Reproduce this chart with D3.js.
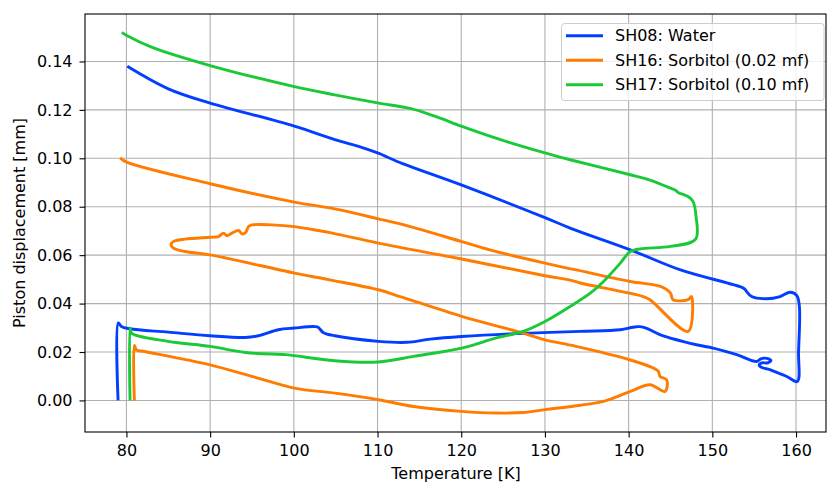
<!DOCTYPE html>
<html>
<head>
<meta charset="utf-8">
<script src="https://cdn.jsdelivr.net/npm/d3@7"></script>
<style>
  html, body { margin: 0; padding: 0; background: #ffffff; }
  svg { display: block; font-family: "DejaVu Sans", sans-serif; }
</style>
</head>
<body>
<svg id="chart" width="827" height="483"></svg>
<script>
// Piston displacement vs temperature for three samples (T in K, displacement in mm)
const seriesNames = ["SH08: Water", "SH16: Sorbitol (0.02 mf)", "SH17: Sorbitol (0.10 mf)"];
const seriesColors = ["#023eff", "#ff7c00", "#1ac938"];

const waterT = [79.0, 79.03, 79.4, 80.4, 85, 90, 94.2, 95.76, 98.15, 100.06, 102.5, 102.9, 103.5, 104.9,
  110.1, 113.5, 116.3, 120.05, 125.8, 134.2, 139, 140.5, 141.2, 142, 143.8, 148.1, 150.1, 153, 155.3,
  155.8, 156.5, 157.0, 156.6, 155.9, 155.6, 156.0, 156.8, 157.3, 158.9, 160.15, 160.3, 160.4, 160.1,
  159.3, 158.1, 156.5, 154.7, 153.7, 152.5, 146.2, 140.2, 133, 130, 120, 113, 110, 108, 104.9, 100.06, 90, 85, 80.1];
const waterD = [0.0, 0.032, 0.0305, 0.0296, 0.0282, 0.0267, 0.026, 0.0267, 0.0292, 0.0299, 0.0305, 0.0302, 0.0281, 0.0267,
  0.0244, 0.024, 0.0253, 0.0264, 0.0275, 0.0285, 0.0292, 0.0302, 0.0305, 0.030, 0.0271, 0.023, 0.0216, 0.0188, 0.0161,
  0.0172, 0.0174, 0.0165, 0.0155, 0.0155, 0.0145, 0.0135, 0.0128, 0.0121, 0.0099, 0.0078, 0.02, 0.0388, 0.0433,
  0.0447, 0.0429, 0.042, 0.0429, 0.0464, 0.0478, 0.0539, 0.0622, 0.0712, 0.0755, 0.089, 0.0978, 0.1022, 0.1046, 0.1077, 0.1133, 0.1228, 0.1287, 0.138];

const sorb02T = [80.95, 80.95, 81.2, 82.2, 90, 95, 100.06, 104.9, 110.1, 114.3, 120.05, 124.2, 127.4, 130, 134.2,
  137, 140.2, 142.55, 144.35, 144.55, 143.75, 143.55, 142.95, 140.2, 133.6, 130, 127.4, 120.05, 112.7, 110.1,
  104.3, 100.06, 90, 87, 85.6, 85.33, 85.6, 87, 90, 91, 91.6, 92, 92.6, 93.4, 93.8, 94.2, 94.6, 95, 97.4,
  100.06, 102.9, 104.6, 110.1, 120.05, 130, 133, 134.2, 141.75, 142.55, 147.1, 147.5, 147.1, 145.3, 145, 143.8,
  140.2, 133.6, 130, 123.4, 120.05, 113.9, 110.1, 104.9, 100.06, 90, 80.04, 79.25];
const sorb02D = [0.0, 0.0227, 0.0209, 0.0202, 0.0147, 0.0099, 0.0051, 0.003, 0.0003, -0.0025, -0.0045, -0.0052, -0.005, -0.0038, -0.002,
  -0.0004, 0.0037, 0.0065, 0.0037, 0.0085, 0.0099, 0.012, 0.0134, 0.0167, 0.0224, 0.025, 0.0278, 0.0347, 0.0429, 0.0457,
  0.0498, 0.0526, 0.0601, 0.0615, 0.0629, 0.0643, 0.0656, 0.0666, 0.0674, 0.0677, 0.0691, 0.068, 0.0691, 0.0702, 0.0688, 0.0692, 0.0718, 0.0725, 0.0725,
  0.0718, 0.0702, 0.0691, 0.065, 0.0584, 0.0515, 0.0497, 0.0485, 0.0429, 0.0416, 0.0285, 0.0429, 0.0416, 0.0416, 0.0443, 0.0471,
  0.0491, 0.054, 0.0567, 0.0622, 0.0656, 0.0718, 0.075, 0.0791, 0.0819, 0.0895, 0.0984, 0.1002];

const sorb10T = [80.43, 80.43, 80.6, 85, 90, 94.2, 98.95, 100.06, 104.9, 110.1, 114.3, 120.05, 124.2, 127.4, 130,
  133, 135.5, 137, 139, 140.2, 141.4, 145, 148.0, 148.05, 147.7, 147.1, 145.9, 145.6, 144.55, 142.2, 140.2,
  133, 130, 124.7, 120, 117, 114, 110, 104.9, 100.06, 90, 83.0, 80.04, 79.44];
const sorb10D = [0.0, 0.0299, 0.0278, 0.0244, 0.0223, 0.0198, 0.0189, 0.0185, 0.0164, 0.0159, 0.0182, 0.0216, 0.0258, 0.0285, 0.0326,
  0.0388, 0.0445, 0.0491, 0.0567, 0.0615, 0.0626, 0.0636, 0.0666, 0.076, 0.0821, 0.0842, 0.0859, 0.0868, 0.0883, 0.0914, 0.0932,
  0.0994, 0.1022, 0.1077, 0.1133, 0.1172, 0.1205, 0.1229, 0.1262, 0.1296, 0.1383, 0.1459, 0.1507, 0.152];

const xTicks = [80, 90, 100, 110, 120, 130, 140, 150, 160];
const yTicks = [0.00, 0.02, 0.04, 0.06, 0.08, 0.10, 0.12, 0.14];

const series = [
  { name: seriesNames[0], color: seriesColors[0], T: waterT, D: waterD },
  { name: seriesNames[1], color: seriesColors[1], T: sorb02T, D: sorb02D },
  { name: seriesNames[2], color: seriesColors[2], T: sorb10T, D: sorb10D }
];

const margin = { left: 85, right: 1, top: 14, bottom: 51 };
const W = 827, H = 483;
const svg = d3.select("#chart");

const x = d3.scaleLinear().domain([75.05, 163.58]).range([margin.left, W - margin.right]);
const y = d3.scaleLinear().domain([-0.01304, 0.1596]).range([H - margin.bottom, margin.top]);

const plotW = W - margin.left - margin.right;
const plotH = H - margin.top - margin.bottom;

// grid
const grid = svg.append("g");
grid.selectAll("line.gx").data(xTicks).enter().append("line")
  .attr("x1", d => x(d)).attr("x2", d => x(d))
  .attr("y1", margin.top).attr("y2", H - margin.bottom)
  .attr("stroke", "#b0b0b0").attr("stroke-width", 1.1);
grid.selectAll("line.gy").data(yTicks).enter().append("line")
  .attr("y1", d => y(d)).attr("y2", d => y(d))
  .attr("x1", margin.left).attr("x2", W - margin.right)
  .attr("stroke", "#b0b0b0").attr("stroke-width", 1.1);

// curves
svg.append("defs").append("clipPath").attr("id", "clip")
  .append("rect").attr("x", margin.left).attr("y", margin.top).attr("width", plotW).attr("height", plotH);

const line = d3.line()
  .x(d => x(d[0])).y(d => y(d[1]))
  .curve(d3.curveCatmullRom.alpha(0.5));

const curves = svg.append("g").attr("clip-path", "url(#clip)");
series.forEach(s => {
  const pts = s.T.map((t, i) => [t, s.D[i]]);
  curves.append("path")
    .attr("d", line(pts))
    .attr("fill", "none")
    .attr("stroke", s.color)
    .attr("stroke-width", 2.9)
    .attr("stroke-linejoin", "round")
    .attr("stroke-linecap", "butt");
});

// axes
const xAxis = d3.axisBottom(x).tickValues(xTicks).tickSize(5.5).tickPadding(7).tickFormat(d3.format("d"));
const yAxis = d3.axisLeft(y).tickValues(yTicks).tickSize(5.5).tickPadding(7).tickFormat(d3.format(".2f"));

const gx = svg.append("g").attr("transform", `translate(0,${H - margin.bottom})`).call(xAxis);
const gy = svg.append("g").attr("transform", `translate(${margin.left},0)`).call(yAxis);
[gx, gy].forEach(g => {
  g.select(".domain").remove();
  g.selectAll(".tick line").attr("stroke", "#000").attr("stroke-width", 1.1);
  g.selectAll(".tick text").attr("font-size", 16).attr("fill", "#000")
    .attr("font-family", "DejaVu Sans, sans-serif");
});

// frame
svg.append("rect")
  .attr("x", margin.left).attr("y", margin.top)
  .attr("width", plotW).attr("height", plotH)
  .attr("fill", "none").attr("stroke", "#000").attr("stroke-width", 1.1);

// axis labels
svg.append("text")
  .attr("x", 456).attr("y", 479)
  .attr("text-anchor", "middle").attr("font-size", 16)
  .text("Temperature [K]");
svg.append("text")
  .attr("transform", `translate(25,${margin.top + plotH / 2}) rotate(-90)`)
  .attr("text-anchor", "middle").attr("font-size", 16)
  .text("Piston displacement [mm]");

// legend
const lg = svg.append("g");
lg.append("rect")
  .attr("x", 561.5).attr("y", 23.5).attr("width", 262.5).attr("height", 77)
  .attr("rx", 3).attr("fill", "#ffffff").attr("fill-opacity", 0.8)
  .attr("stroke", "#cccccc").attr("stroke-width", 1);
series.forEach((s, i) => {
  const cy = 35.7 + i * 24.5;
  lg.append("line")
    .attr("x1", 566).attr("x2", 603).attr("y1", cy).attr("y2", cy)
    .attr("stroke", s.color).attr("stroke-width", 2.9);
  lg.append("text")
    .attr("x", 615).attr("y", cy).attr("dy", "0.36em")
    .attr("font-size", 16).text(s.name);
});
</script>
</body>
</html>
